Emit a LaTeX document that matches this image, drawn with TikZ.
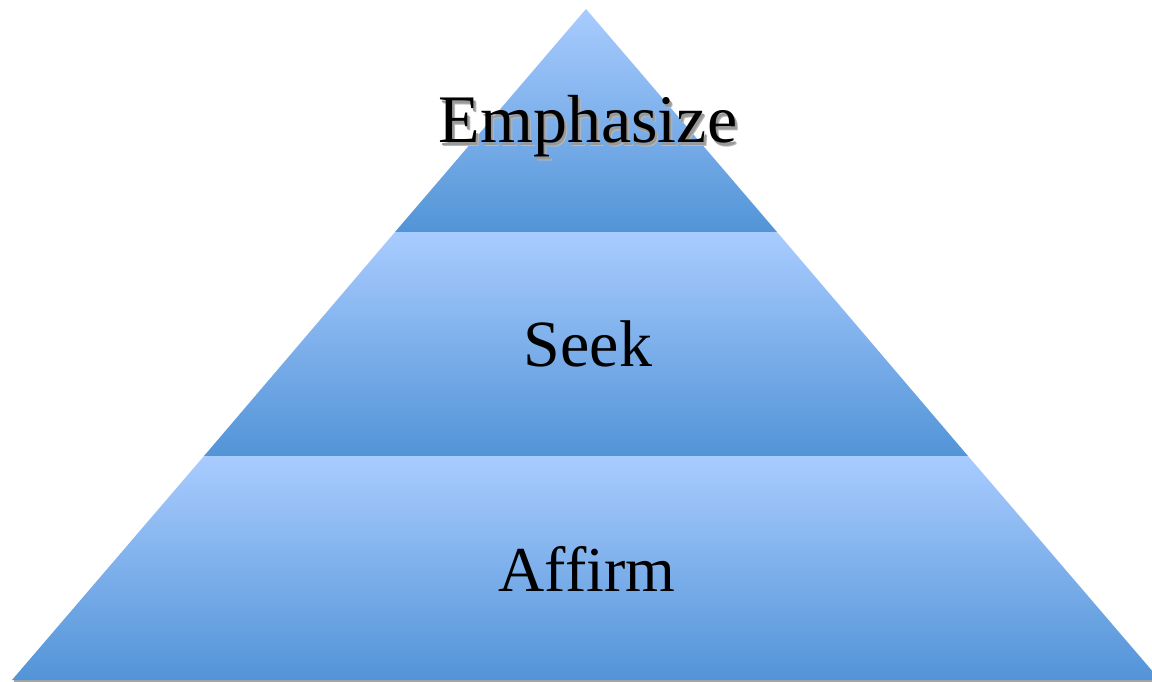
\documentclass[tikz,border=0pt]{standalone}
\usepackage{fontspec}
\setmainfont{Liberation Serif}
\definecolor{bandlight}{HTML}{A9CCFF}
\definecolor{banddark}{HTML}{5294D7}
\newcommand{\shadowed}[1]{\makebox[0pt][l]{\hspace{3pt}\raisebox{-3.5pt}{\color{black!28}#1}}\makebox[0pt][l]{\hspace{2pt}\raisebox{-2.5pt}{\color{black!40}#1}}#1}
\begin{document}
\begin{tikzpicture}[x=1pt,y=-1pt,
  band/.style={top color=bandlight,bottom color=banddark,draw=none},
  label/.style={anchor=base,inner sep=0pt,font=\fontsize{66}{70}\selectfont}]
\useasboundingbox (0,0) rectangle (1152,682);
\begin{scope}
\clip (0,0) rectangle (1152,682);
% shadow under base
\fill[gray!70] (14,679) rectangle (1160,682);
% bands
\path[band] (586,9) -- (777,232) -- (395,232) -- cycle;
\path[band] (395,232) -- (777,232) -- (968,456) -- (204,456) -- cycle;
\path[band] (204,456) -- (968,456) -- (1160,680) -- (12,680) -- cycle;
\end{scope}
\node[label,font=\fontsize{68}{72}\selectfont] (emph) at (588,143) {\shadowed{Emphasize}};
\node[label] (seek) at (588,366) {Seek};
\node[label,font=\fontsize{64}{68}\selectfont] (affirm) at (587,591) {Affirm};
\end{tikzpicture}
\end{document}
